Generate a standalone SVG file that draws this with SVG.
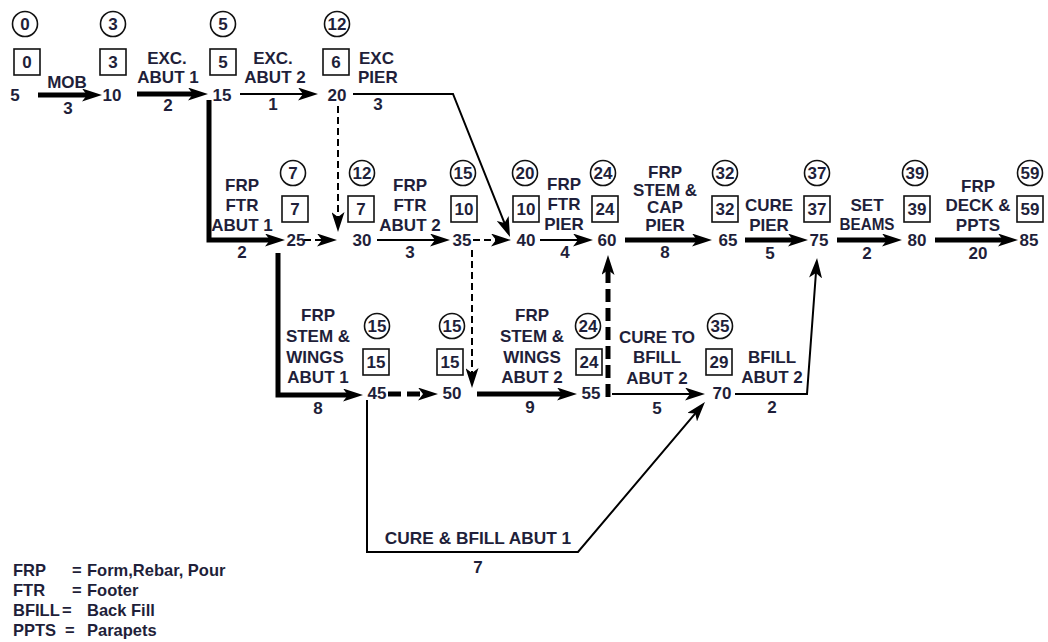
<svg xmlns="http://www.w3.org/2000/svg" width="1048" height="642" viewBox="0 0 1048 642">
<style>
.t{font-family:"Liberation Sans",Arial,sans-serif;font-weight:bold;font-size:17px;fill:#1f1f3a;text-anchor:middle}
.s{text-anchor:start}
.leg{font-size:16.5px;text-anchor:start}
.c{fill:none;stroke:#111;stroke-width:1.6}
.thin{fill:none;stroke:#000;stroke-width:2}
.thick{fill:none;stroke:#000;stroke-width:5;stroke-linejoin:miter}
.dash{stroke-dasharray:7 4}
.tdash{stroke-dasharray:13 6}
</style>
<defs>
<marker id="ah" viewBox="0 0 20 13" refX="10" refY="6.5" markerWidth="20" markerHeight="13" markerUnits="userSpaceOnUse" orient="auto">
<path d="M0,0 L20,6.5 L0,13 L5,6.5 z" fill="#000"/>
</marker>
</defs>
<rect width="1048" height="642" fill="#fff"/>

<g id="connectors">
<g id="a5-10"><path class="thick" d="M38,95 H92" marker-end="url(#ah)"/><text class="t" x="67" y="88">MOB</text><text class="t" x="68" y="114">3</text></g>
<g id="a10-15"><path class="thick" d="M137,94 H198" marker-end="url(#ah)"/><text class="t" x="167" y="64">EXC.</text><text class="t" x="168" y="83">ABUT 1</text><text class="t" x="168" y="111">2</text></g>
<g id="a15-20"><path class="thin" d="M240,94 H308" marker-end="url(#ah)"/><text class="t" x="273" y="64">EXC.</text><text class="t" x="275" y="83">ABUT 2</text><text class="t" x="273" y="110">1</text></g>
<g id="a20-40"><path class="thin" d="M353,94 H453 L506.3,227.7" marker-end="url(#ah)"/><text class="t s" x="359" y="64">EXC</text><text class="t s" x="358" y="83">PIER</text><text class="t" x="378" y="110">3</text></g>
<g id="a15-25"><path class="thick" d="M209,100 V240 H275" marker-end="url(#ah)"/><text class="t" x="242" y="191">FRP</text><text class="t" x="242" y="211">FTR</text><text class="t" x="242" y="231">ABUT 1</text><text class="t" x="242" y="258">2</text></g>
<g id="a20-30"><path class="thin dash" d="M338,106 V222" marker-end="url(#ah)"/></g>
<g id="a25-30"><path class="thin dash" d="M304,240 H327" marker-end="url(#ah)"/></g>
<g id="a30-35"><path class="thin" d="M377,240 H440" marker-end="url(#ah)"/><text class="t" x="410" y="191">FRP</text><text class="t" x="410" y="211">FTR</text><text class="t" x="410" y="231">ABUT 2</text><text class="t" x="410" y="258">3</text></g>
<g id="a35-40"><path class="thin dash" d="M473,240 H501" marker-end="url(#ah)"/></g>
<g id="a35-50"><path class="thin dash" d="M472,250 V378" marker-end="url(#ah)"/></g>
<g id="a40-60"><path class="thin" d="M540,240 H583" marker-end="url(#ah)"/><text class="t" x="564" y="190">FRP</text><text class="t" x="564" y="210">FTR</text><text class="t" x="564" y="230">PIER</text><text class="t" x="565" y="258">4</text></g>
<g id="a60-65"><path class="thick" d="M625,240 H702" marker-end="url(#ah)"/><text class="t" x="665" y="178">FRP</text><text class="t" x="665" y="196">STEM &amp;</text><text class="t" x="665" y="213">CAP</text><text class="t" x="665" y="231">PIER</text><text class="t" x="665" y="258">8</text></g>
<g id="a65-75"><path class="thick" d="M745,240 H798" marker-end="url(#ah)"/><text class="t" x="769" y="211">CURE</text><text class="t" x="769" y="231">PIER</text><text class="t" x="770" y="259">5</text></g>
<g id="a75-80"><path class="thick" d="M837,240 H892" marker-end="url(#ah)"/><text class="t" x="867" y="211">SET</text><text class="t" x="867" y="230" textLength="55" lengthAdjust="spacingAndGlyphs">BEAMS</text><text class="t" x="867" y="259">2</text></g>
<g id="a80-85"><path class="thick" d="M935,240 H1008" marker-end="url(#ah)"/><text class="t" x="978" y="192">FRP</text><text class="t" x="978" y="211">DECK &amp;</text><text class="t" x="978" y="231">PPTS</text><text class="t" x="978" y="259">20</text></g>
<g id="a25-45"><path class="thick" d="M278,253 V395 H353" marker-end="url(#ah)"/><text class="t" x="318" y="321">FRP</text><text class="t" x="318" y="342">STEM &amp;</text><text class="t" x="315" y="363">WINGS</text><text class="t" x="318" y="383">ABUT 1</text><text class="t" x="318" y="414">8</text></g>
<g id="a45-50"><path class="thick tdash" d="M388,394 H428" marker-end="url(#ah)"/></g>
<g id="a50-55"><path class="thick" d="M477,394 H567" marker-end="url(#ah)"/><text class="t" x="532" y="321">FRP</text><text class="t" x="532" y="342">STEM &amp;</text><text class="t" x="532" y="363">WINGS</text><text class="t" x="532" y="383">ABUT 2</text><text class="t" x="530" y="413">9</text></g>
<g id="a55-60"><path class="thick tdash" d="M608,397 V265" marker-end="url(#ah)"/></g>
<g id="a55-70"><path class="thin" d="M612,394 H695" marker-end="url(#ah)"/><text class="t" x="657" y="343">CURE TO</text><text class="t" x="657" y="363">BFILL</text><text class="t" x="657" y="384">ABUT 2</text><text class="t" x="657" y="414">5</text></g>
<g id="a70-75"><path class="thin" d="M735,394 H807 L816.3,268" marker-end="url(#ah)"/><text class="t" x="772" y="363">BFILL</text><text class="t" x="772" y="383">ABUT 2</text><text class="t" x="772" y="413">2</text></g>
<g id="a45-70"><path class="thin" d="M367,400 V552 H578 L698.5,409.6" marker-end="url(#ah)"/><text class="t" x="478" y="544" style="font-size:17.3px">CURE &amp; BFILL ABUT 1</text><text class="t" x="478" y="573">7</text></g>
</g>

<g id="n5"><circle class="c" cx="25" cy="24" r="12.5"/><text class="t" x="25" y="30">0</text><rect class="c" x="14" y="49" width="26" height="26"/><text class="t" x="27" y="68">0</text><text class="t" x="15" y="101">5</text></g>
<g id="n10"><circle class="c" cx="113" cy="24" r="12.5"/><text class="t" x="113" y="30">3</text><rect class="c" x="100" y="49" width="26" height="26"/><text class="t" x="113" y="68">3</text><text class="t" x="112" y="101">10</text></g>
<g id="n15"><circle class="c" cx="223" cy="24" r="12.5"/><text class="t" x="223" y="30">5</text><rect class="c" x="210" y="49" width="26" height="26"/><text class="t" x="223" y="68">5</text><text class="t" x="222" y="101">15</text></g>
<g id="n20"><circle class="c" cx="337" cy="24" r="12.5"/><text class="t" x="337" y="30">12</text><rect class="c" x="323" y="49" width="26" height="26"/><text class="t" x="336" y="68">6</text><text class="t" x="337" y="101">20</text></g>

<g id="n25"><circle class="c" cx="293" cy="173" r="12.5"/><text class="t" x="293" y="179">7</text><rect class="c" x="282" y="196" width="26" height="26"/><text class="t" x="295" y="215">7</text><text class="t" x="296" y="246">25</text></g>
<g id="n30"><circle class="c" cx="362" cy="173" r="12.5"/><text class="t" x="362" y="179">12</text><rect class="c" x="348" y="196" width="26" height="26"/><text class="t" x="361" y="215">7</text><text class="t" x="362" y="246">30</text></g>
<g id="n35"><circle class="c" cx="463" cy="173" r="12.5"/><text class="t" x="463" y="179">15</text><rect class="c" x="451" y="196" width="26" height="26"/><text class="t" x="464" y="215">10</text><text class="t" x="462" y="246">35</text></g>
<g id="n40"><circle class="c" cx="525" cy="173" r="12.5"/><text class="t" x="525" y="179">20</text><rect class="c" x="513" y="196" width="26" height="26"/><text class="t" x="526" y="215">10</text><text class="t" x="526" y="246">40</text></g>
<g id="n60"><circle class="c" cx="603" cy="173" r="12.5"/><text class="t" x="603" y="179">24</text><rect class="c" x="592" y="196" width="26" height="26"/><text class="t" x="605" y="215">24</text><text class="t" x="607" y="246">60</text></g>
<g id="n65"><circle class="c" cx="725" cy="173" r="12.5"/><text class="t" x="725" y="179">32</text><rect class="c" x="712" y="196" width="26" height="26"/><text class="t" x="725" y="215">32</text><text class="t" x="728" y="246">65</text></g>
<g id="n75"><circle class="c" cx="817" cy="173" r="12.5"/><text class="t" x="817" y="179">37</text><rect class="c" x="804" y="196" width="26" height="26"/><text class="t" x="817" y="215">37</text><text class="t" x="819" y="246">75</text></g>
<g id="n80"><circle class="c" cx="915" cy="173" r="12.5"/><text class="t" x="915" y="179">39</text><rect class="c" x="904" y="196" width="26" height="26"/><text class="t" x="917" y="215">39</text><text class="t" x="917" y="246">80</text></g>
<g id="n85"><circle class="c" cx="1030" cy="173" r="12.5"/><text class="t" x="1030" y="179">59</text><rect class="c" x="1017" y="196" width="26" height="26"/><text class="t" x="1030" y="215">59</text><text class="t" x="1029" y="246">85</text></g>

<g id="n45"><circle class="c" cx="377" cy="326" r="12.5"/><text class="t" x="377" y="332">15</text><rect class="c" x="363" y="349" width="26" height="26"/><text class="t" x="376" y="368">15</text><text class="t" x="377" y="399">45</text></g>
<g id="n50"><circle class="c" cx="452" cy="326" r="12.5"/><text class="t" x="452" y="332">15</text><rect class="c" x="437" y="349" width="26" height="26"/><text class="t" x="450" y="368">15</text><text class="t" x="452" y="399">50</text></g>
<g id="n55"><circle class="c" cx="588" cy="326" r="12.5"/><text class="t" x="588" y="332">24</text><rect class="c" x="576" y="349" width="26" height="26"/><text class="t" x="589" y="368">24</text><text class="t" x="591" y="399">55</text></g>
<g id="n70"><circle class="c" cx="720" cy="326" r="12.5"/><text class="t" x="720" y="332">35</text><rect class="c" x="706" y="349" width="26" height="26"/><text class="t" x="719" y="368">29</text><text class="t" x="722" y="399">70</text></g>

<g id="legend">
<text class="t leg" x="13" y="576">FRP</text><text class="t leg" x="72" y="576">=</text><text class="t leg" x="87" y="576">Form,Rebar, Pour</text>
<text class="t leg" x="13" y="596">FTR</text><text class="t leg" x="72" y="596">=</text><text class="t leg" x="87" y="596">Footer</text>
<text class="t leg" x="13" y="616">BFILL</text><text class="t leg" x="62" y="616">=</text><text class="t leg" x="87" y="616">Back Fill</text>
<text class="t leg" x="13" y="636">PPTS</text><text class="t leg" x="65" y="636">=</text><text class="t leg" x="87" y="636">Parapets</text>
</g>
</svg>
